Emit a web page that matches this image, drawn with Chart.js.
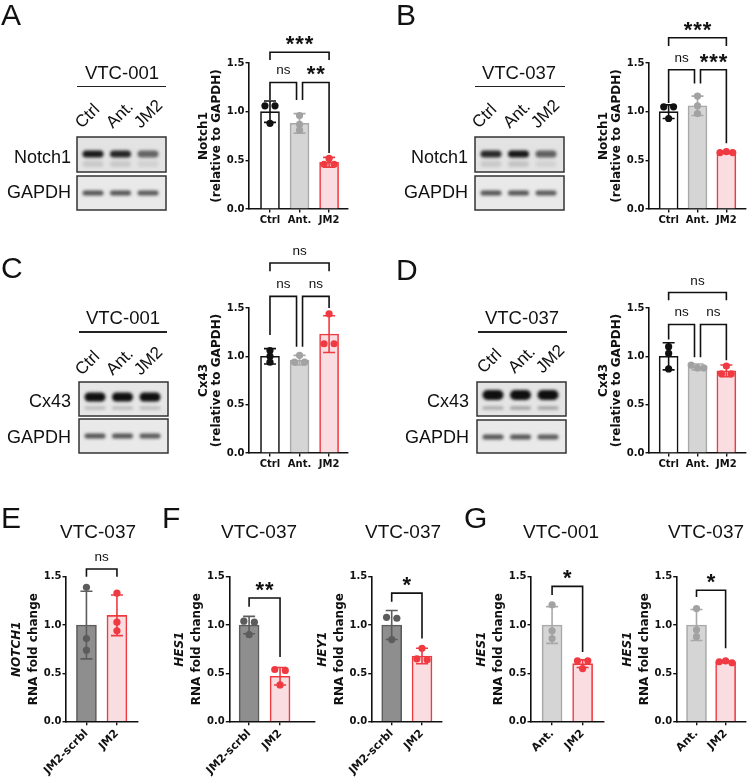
<!DOCTYPE html>
<html>
<head>
<meta charset="utf-8">
<title>Notch1 / Cx43 after JM2</title>
<style>
  html, body { margin: 0; padding: 0; background: #fff; }
  body { position: relative; width: 750px; height: 777px; overflow: hidden;
         font-family: "Liberation Sans", Arial, sans-serif; color: #111; }
  canvas { position: absolute; }
  .t { position: absolute; white-space: nowrap; }
  .rule { position: absolute; height: 1.5px; background: #222; }
</style>
</head>
<body>
<canvas id="blots" width="750" height="777" style="left:0;top:0"></canvas>
<canvas id="chartA" width="170" height="212" style="left:185px;top:28px"></canvas>
<canvas id="chartB" width="165" height="230" style="left:585px;top:10px"></canvas>
<canvas id="chartC" width="170" height="242" style="left:185px;top:243px"></canvas>
<canvas id="chartD" width="165" height="242" style="left:585px;top:243px"></canvas>
<canvas id="chartE" width="145" height="232" style="left:0px;top:545px"></canvas>
<canvas id="chartF1" width="150" height="232" style="left:170px;top:545px"></canvas>
<canvas id="chartF2" width="135" height="232" style="left:312px;top:545px"></canvas>
<canvas id="chartG1" width="137" height="232" style="left:472px;top:545px"></canvas>
<canvas id="chartG2" width="133" height="232" style="left:617px;top:545px"></canvas>

<script src="https://cdn.jsdelivr.net/npm/chart.js"></script>
<script>
// ---------- data ----------
const groupsWB = ['Ctrl', 'Ant.', 'JM2'];

// A  Notch1 / GAPDH, VTC-001
const notch1V001Mean = [1.00, 0.88, 0.48];
const notch1V001Sd   = [0.11, 0.10, 0.05];
const notch1V001Pts  = [[1.06, 1.06, 0.88], [0.96, 0.87, 0.81], [0.46, 0.46, 0.52]];
const notch1V001Sig  = [[0, 2, 1.61, 1.53, 1.53, '***'], [0, 1, 1.30, 1.12, 1.12, 'ns'], [1, 2, 1.30, 1.12, 0.575, '**']];

// B  Notch1 / GAPDH, VTC-037
const notch1V037Mean = [1.00, 1.06, 0.58];
const notch1V037Sd   = [0.07, 0.10, 0.01];
const notch1V037Pts  = [[1.05, 1.05, 0.93], [1.16, 1.06, 0.98], [0.58, 0.59, 0.58]];
const notch1V037Sig  = [[0, 2, 1.76, 1.675, 1.675, '***'], [0, 1, 1.43, 1.09, 1.29, 'ns'], [1, 2, 1.43, 1.29, 0.675, '***']];

// C  Cx43 / GAPDH, VTC-001
const cx43V001Mean = [1.00, 0.96, 1.23];
const cx43V001Sd   = [0.08, 0.05, 0.19];
const cx43V001Pts  = [[1.06, 1.00, 0.94], [1.01, 0.94, 0.94], [1.13, 1.13, 1.44]];
const cx43V001Sig  = [[0, 2, 1.965, 1.88, 1.88, 'ns'], [0, 1, 1.62, 1.22, 1.10, 'ns'], [1, 2, 1.62, 1.10, 1.50, 'ns']];

// D  Cx43 / GAPDH, VTC-037
const cx43V037Mean = [1.00, 0.89, 0.85];
const cx43V037Sd   = [0.14, 0.03, 0.06];
const cx43V037Pts  = [[1.10, 1.03, 0.87], [0.91, 0.88, 0.88], [0.82, 0.82, 0.90]];
const cx43V037Sig  = [[0, 2, 1.66, 1.58, 1.58, 'ns'], [0, 1, 1.33, 1.175, 0.99, 'ns'], [1, 2, 1.33, 0.99, 0.96, 'ns']];

// E  NOTCH1 RNA, VTC-037
const groupsScr = ['JM2-scrbl', 'JM2'];
const notch1RnaMean = [1.00, 1.10];
const notch1RnaSd   = [0.35, 0.21];
const notch1RnaPts  = [[1.39, 0.86, 0.74], [1.33, 1.03, 0.94]];
const notch1RnaSig  = [[0, 1, 1.58, 1.50, 1.50, 'ns']];

// F  HES1 / HEY1 RNA, VTC-037
const hes1ScrMean = [1.00, 0.47];
const hes1ScrSd   = [0.09, 0.09];
const hes1ScrPts  = [[1.04, 1.03, 0.90], [0.54, 0.53, 0.38]];
const hes1ScrSig  = [[0, 1, 1.28, 1.19, 0.67, '**']];

const hey1ScrMean = [1.00, 0.68];
const hey1ScrSd   = [0.15, 0.08];
const hey1ScrPts  = [[1.08, 1.07, 0.85], [0.76, 0.65, 0.64]];
const hey1ScrSig  = [[0, 1, 1.33, 1.24, 0.86, '*']];

// G  HES1 RNA, Ant. vs JM2
const groupsAnt = ['Ant.', 'JM2'];
const hes1V001Mean = [1.00, 0.60];
const hes1V001Sd   = [0.19, 0.04];
const hes1V001Pts  = [[1.21, 0.94, 0.86], [0.63, 0.63, 0.55]];
const hes1V001Sig  = [[0, 1, 1.40, 1.31, 0.72, '*']];

const hes1V037Mean = [1.00, 0.62];
const hes1V037Sd   = [0.16, 0.01];
const hes1V037Pts  = [[1.17, 0.95, 0.88], [0.62, 0.63, 0.61]];
const hes1V037Sig  = [[0, 1, 1.36, 1.29, 0.76, '*']];

const yTicks = [0, 0.5, 1.0, 1.5];

// ---------- styles ----------
const COLORS = {   // fill, border, dots
  'Ctrl':      ['#ffffff', '#111111', '#111111'],
  'Ant.':      ['#d5d5d5', '#a9a9a9', '#a2a2a2'],
  'JM2':       ['#f9dde0', '#ef3a42', '#ef3a42'],
  'JM2-scrbl': ['#8e8e8e', '#5c5c5c', '#5c5c5c']
};
const AX_FONT = '"DejaVu Sans", sans-serif';
const TXT_FONT = '"Liberation Sans", Arial, sans-serif';

// spread dots sideways only where they would sit on top of each other
function jitter(vals) {
  const dx = vals.map(() => 0), used = vals.map(() => false);
  vals.forEach((v, i) => {
    if (used[i]) return;
    const grp = vals.map((w, j) => j).filter(j => !used[j] && Math.abs(vals[j] - v) < 0.05);
    grp.forEach(j => used[j] = true);
    if (grp.length === 2) { dx[grp[0]] = -0.17; dx[grp[1]] = 0.17; }
    if (grp.length === 3) grp.forEach((j, k) => dx[j] = (k - 1) * 0.22);
  });
  return dx;
}

const errorBars = {
  id: 'errorBars',
  afterDatasetDraw(chart, args, o) {
    if (args.index !== 0) return;
    const {ctx, scales: {x, y}} = chart;
    ctx.save();
    ctx.lineWidth = 1.6;
    o.means.forEach((m, i) => {
      const px = x.getPixelForValue(i), lo = y.getPixelForValue(m - o.sds[i]), hi = y.getPixelForValue(m + o.sds[i]);
      ctx.strokeStyle = COLORS[o.cats[i]][1];
      ctx.beginPath();
      ctx.moveTo(px, lo); ctx.lineTo(px, hi);
      ctx.moveTo(px - 6, hi); ctx.lineTo(px + 6, hi);
      ctx.moveTo(px - 6, lo); ctx.lineTo(px + 6, lo);
      ctx.stroke();
    });
    ctx.restore();
  }
};

function drawSigLabel(ctx, label, cx, cy) {
  ctx.textAlign = 'center';
  ctx.textBaseline = 'alphabetic';
  if (label[0] === '*') {
    ctx.font = 'bold 22px ' + TXT_FONT;
    const m = ctx.measureText('*');
    const base = cy + (m.actualBoundingBoxAscent - m.actualBoundingBoxDescent) / 2;
    for (let k = 0; k < label.length; k++) ctx.fillText('*', cx + (k - (label.length - 1) / 2) * 9.5, base);
  } else {
    ctx.font = '13.5px ' + TXT_FONT;
    const m = ctx.measureText(label);
    ctx.fillText(label, cx, cy + (m.actualBoundingBoxAscent - m.actualBoundingBoxDescent) / 2);
  }
}

const brackets = {
  id: 'brackets',
  afterDraw(chart, args, o) {
    const {ctx, scales: {x, y}} = chart;
    const last = o.n - 1;
    ctx.save();
    ctx.strokeStyle = '#111'; ctx.fillStyle = '#111'; ctx.lineWidth = 1.6;
    o.list.forEach(([a, b, lineY, lEnd, rEnd, label]) => {
      const x1 = x.getPixelForValue(a) + (a > 0 && a < last ? 3 : 0);
      const x2 = x.getPixelForValue(b) - (b > 0 && b < last ? 3 : 0);
      const yl = y.getPixelForValue(lineY);
      ctx.beginPath();
      ctx.moveTo(x1, y.getPixelForValue(lEnd));
      ctx.lineTo(x1, yl); ctx.lineTo(x2, yl);
      ctx.lineTo(x2, y.getPixelForValue(rEnd));
      ctx.stroke();
      drawSigLabel(ctx, label, (x1 + x2) / 2, yl - 11.5);
    });
    ctx.restore();
  }
};

const yTitle = {
  id: 'yTitle',
  afterDraw(chart, args, o) {
    const {ctx, chartArea} = chart;
    const cy = (chartArea.top + chartArea.bottom) / 2;
    o.lines.forEach(([text, italic, dx]) => {
      ctx.save();
      ctx.translate(chartArea.left + dx, cy);
      ctx.rotate(-Math.PI / 2);
      ctx.font = (italic ? 'italic ' : '') + 'bold 12px ' + AX_FONT;
      ctx.textAlign = 'center'; ctx.textBaseline = 'middle'; ctx.fillStyle = '#111';
      ctx.fillText(text, 0, 0);
      ctx.restore();
    });
  }
};

function barChart(id, g, cats, means, sds, pts, sig, titleLines) {
  const dots = [];
  pts.forEach((vals, i) => jitter(vals).forEach((d, k) => dots.push({x: i + d, y: vals[k], c: COLORS[cats[i]][2]})));
  const axisGrid = {drawOnChartArea: false, color: '#111', tickLength: 3.5, lineWidth: 1.4};
  return new Chart(document.getElementById(id), {
    type: 'bar',
    data: {
      datasets: [
        {
          type: 'bar', order: 2,
          data: means.map((m, i) => ({x: i, y: m})),
          backgroundColor: cats.map(c => COLORS[c][0]),
          borderColor: cats.map(c => COLORS[c][1]),
          borderWidth: 1.6, barThickness: g.bar
        },
        {
          type: 'scatter', order: 1,
          data: dots,
          backgroundColor: dots.map(d => d.c), borderWidth: 0,
          pointRadius: 3.6
        }
      ]
    },
    options: {
      responsive: false, animation: false, events: [],
      layout: {padding: {top: g.padTop, right: g.padRight, left: 0, bottom: 0}},
      plugins: {
        legend: {display: false}, tooltip: {enabled: false},
        errorBars: {means, sds, cats},
        brackets: {list: sig, n: cats.length},
        yTitle: {lines: titleLines}
      },
      scales: {
        x: {
          type: 'linear', min: g.xMin, max: g.xMax, offset: false,
          afterBuildTicks: s => { s.ticks = cats.map((c, i) => ({value: i})); },
          afterFit: s => { s.height = g.xH; s.paddingLeft = 0; s.paddingRight = 0; },
          ticks: {callback: v => cats[v], autoSkip: false, color: '#111', padding: 2,
                  minRotation: g.rot, maxRotation: g.rot,
                  font: {family: AX_FONT, weight: 'bold', size: g.xFont}},
          grid: {...axisGrid, offset: false},
          border: {color: '#111', width: 1.6}
        },
        y: {
          min: 0, max: 1.5,
          afterBuildTicks: s => { s.ticks = yTicks.map(v => ({value: v})); },
          afterFit: s => { s.width = g.yW; },
          ticks: {callback: v => v.toFixed(1), color: '#111', padding: 1,
                  font: {family: AX_FONT, weight: 'bold', size: 10}},
          grid: axisGrid,
          border: {color: '#111', width: 1.6}
        }
      }
    },
    plugins: [errorBars, brackets, yTitle]
  });
}

// ---------- layout of each plot box ----------
const wbA = {yW: 64, padTop: 35, padRight: 7, xH: 31, xMin: -0.71, xMax: 2.64, bar: 19, rot: 0, xFont: 10};
const wbB = {yW: 64, padTop: 53, padRight: 2, xH: 31, xMin: -0.68, xMax: 2.68, bar: 19, rot: 0, xFont: 10};
const wbC = {yW: 64, padTop: 65, padRight: 7, xH: 32, xMin: -0.71, xMax: 2.64, bar: 19, rot: 0, xFont: 10};
const wbD = {yW: 64, padTop: 65, padRight: 2, xH: 32, xMin: -0.68, xMax: 2.68, bar: 19, rot: 0, xFont: 10};
const rnaE  = {yW: 66,   padTop: 31.7, padRight: 7,   xH: 55.3, xMin: -0.67, xMax: 1.69, bar: 20, rot: 45, xFont: 11};
const rnaF1 = {yW: 59.3, padTop: 31.7, padRight: 5,   xH: 55.3, xMin: -0.64, xMax: 2.13, bar: 20, rot: 45, xFont: 11};
const rnaF2 = {yW: 59.7, padTop: 31.7, padRight: 5.3, xH: 55.3, xMin: -0.66, xMax: 1.65, bar: 20, rot: 45, xFont: 11};
const rnaG1 = {yW: 59,   padTop: 31.7, padRight: 5,   xH: 55.3, xMin: -0.69, xMax: 1.70, bar: 20, rot: 45, xFont: 11};
const rnaG2 = {yW: 59.7, padTop: 31.7, padRight: 2,   xH: 55.3, xMin: -0.68, xMax: 1.70, bar: 20, rot: 45, xFont: 11};

const wbTitle = name => [[name, false, -45], ['(relative to GAPDH)', false, -32]];
const rnaTitle = gene => [[gene, true, -49], ['RNA fold change', false, -32]];

barChart('chartA', wbA, groupsWB, notch1V001Mean, notch1V001Sd, notch1V001Pts, notch1V001Sig, wbTitle('Notch1'));
barChart('chartB', wbB, groupsWB, notch1V037Mean, notch1V037Sd, notch1V037Pts, notch1V037Sig, wbTitle('Notch1'));
barChart('chartC', wbC, groupsWB, cx43V001Mean, cx43V001Sd, cx43V001Pts, cx43V001Sig, wbTitle('Cx43'));
barChart('chartD', wbD, groupsWB, cx43V037Mean, cx43V037Sd, cx43V037Pts, cx43V037Sig, wbTitle('Cx43'));
barChart('chartE', rnaE, groupsScr, notch1RnaMean, notch1RnaSd, notch1RnaPts, notch1RnaSig, rnaTitle('NOTCH1'));
barChart('chartF1', rnaF1, groupsScr, hes1ScrMean, hes1ScrSd, hes1ScrPts, hes1ScrSig, rnaTitle('HES1'));
barChart('chartF2', rnaF2, groupsScr, hey1ScrMean, hey1ScrSd, hey1ScrPts, hey1ScrSig, rnaTitle('HEY1'));
barChart('chartG1', rnaG1, groupsAnt, hes1V001Mean, hes1V001Sd, hes1V001Pts, hes1V001Sig, rnaTitle('HES1'));
barChart('chartG2', rnaG2, groupsAnt, hes1V037Mean, hes1V037Sd, hes1V037Pts, hes1V037Sig, rnaTitle('HES1'));

// ---------- blot pictures ----------
const LANES = [16, 43.5, 71];
function drawBlot(ctx, x, y, w, h, bg, bands) {
  ctx.save();
  ctx.fillStyle = bg; ctx.fillRect(x, y, w, h);
  ctx.beginPath(); ctx.rect(x, y, w, h); ctx.clip();
  ctx.filter = 'blur(1.4px)';
  bands.forEach(([ry, bh, dens]) => dens.forEach((d, i) => {
    ctx.fillStyle = `rgba(15,15,15,${d})`;
    ctx.beginPath();
    ctx.roundRect(x + LANES[i] - 10.5, y + ry - bh / 2, 21, bh, bh / 2);
    ctx.fill();
  }));
  ctx.restore();
  ctx.strokeStyle = '#333'; ctx.lineWidth = 1.5;
  ctx.strokeRect(x, y, w, h);
}
const bctx = document.getElementById('blots').getContext('2d');
const gapdhBands = [[17, 5, [0.68, 0.68, 0.66]]];
drawBlot(bctx, 77, 137, 89, 35, '#e3e3e3', [[17, 7, [0.95, 0.9, 0.6]], [27, 6, [0.12, 0.12, 0.08]]]);
drawBlot(bctx, 77, 176, 89, 34, '#e9e9e9', gapdhBands);
drawBlot(bctx, 475, 137, 89, 35, '#e3e3e3', [[17, 7, [0.88, 0.97, 0.62]], [27, 6, [0.12, 0.14, 0.08]]]);
drawBlot(bctx, 475, 176, 89, 34, '#e9e9e9', gapdhBands);
drawBlot(bctx, 79, 382, 89, 34, '#e6e6e6', [[15, 9, [1, 1, 1]], [26, 3, [0.22, 0.22, 0.22]]]);
drawBlot(bctx, 79, 419, 89, 34, '#e9e9e9', gapdhBands);
drawBlot(bctx, 477, 382, 89, 34, '#e4e4e4', [[13, 10, [1, 1, 1]], [26, 3, [0.3, 0.35, 0.35]]]);
drawBlot(bctx, 477, 420, 89, 33, '#e9e9e9', gapdhBands);

// ---------- text ----------
function put(text, x, base, size, align, rot) {
  const d = document.createElement('div');
  d.className = 't';
  d.textContent = text;
  d.style.fontSize = size + 'px';
  d.style.lineHeight = size + 'px';
  d.style.top = (base - 0.8465 * size) + 'px';
  if (align === 'center') { d.style.left = x + 'px'; d.style.transform = 'translateX(-50%)'; }
  else if (align === 'right') { d.style.right = (750 - x) + 'px'; }
  else d.style.left = x + 'px';
  if (rot) { d.style.transformOrigin = `0 ${0.8465 * size}px`; d.style.transform = `rotate(${rot}deg)`; }
  document.body.appendChild(d);
}
function rule(x, y, w) {
  const d = document.createElement('div');
  d.className = 'rule';
  d.style.left = x + 'px'; d.style.top = y + 'px'; d.style.width = w + 'px';
  document.body.appendChild(d);
}
[['A', 1, 25], ['B', 396, 25], ['C', 1, 278], ['D', 396, 280], ['E', 1, 528], ['F', 162, 528], ['G', 464, 528]]
  .forEach(([t, x, b]) => put(t, x, b, 30));

put('VTC-001', 122, 80, 18.5, 'center'); rule(77, 85.5, 89);
put('VTC-037', 519, 80, 18.5, 'center'); rule(475, 85.5, 90);
put('VTC-001', 123, 325, 18.5, 'center'); rule(79, 331, 88);
put('VTC-037', 522, 325, 18.5, 'center'); rule(478, 331, 89);
put('VTC-037', 98, 538, 19, 'center');
put('VTC-037', 259, 538, 19, 'center');
put('VTC-037', 403, 538, 19, 'center');
put('VTC-001', 561, 538, 19, 'center');
put('VTC-037', 706, 538, 19, 'center');

put('Notch1', 71, 163, 18, 'right'); put('GAPDH', 71, 198, 18, 'right');
put('Notch1', 468, 163, 18, 'right'); put('GAPDH', 468, 198, 18, 'right');
put('Cx43', 71, 407, 18, 'right'); put('GAPDH', 71, 443, 18, 'right');
put('Cx43', 469, 407, 18, 'right'); put('GAPDH', 469, 443, 18, 'right');

[[82, 129], [479, 129], [82, 376], [484, 374]].forEach(([x0, b]) => {
  groupsWB.forEach((g, i) => put(g, x0 + [0, 31, 59][i], b, 17, 'left', -45));
});
</script>
</body>
</html>
